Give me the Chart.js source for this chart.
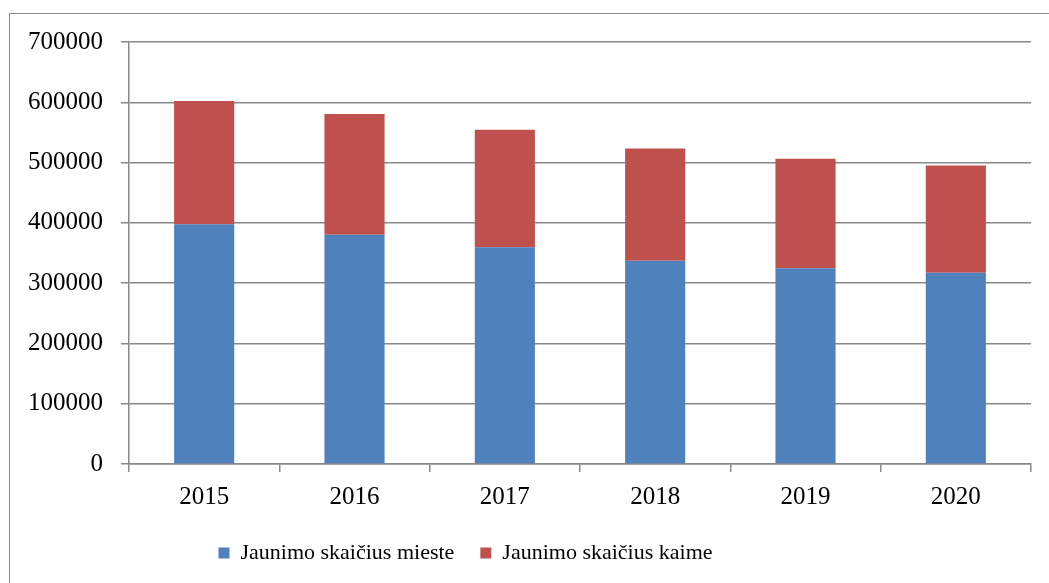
<!DOCTYPE html>
<html>
<head>
<meta charset="utf-8">
<title>Jaunimo skaičius</title>
<script src="https://cdn.jsdelivr.net/npm/chart.js@4/dist/chart.umd.min.js"></script>
<style>
  html, body { margin: 0; padding: 0; background: #fff; overflow: hidden; }
  #frame {
    position: absolute; left: 9px; top: 13px;
    width: 1200px; height: 800px;
    border: 1px solid #8a8a8a;
  }
  #wrap { position: absolute; left: 0; top: 0; width: 1049px; height: 583px; }
</style>
</head>
<body>
<div id="frame"></div>
<div id="wrap"><canvas id="chart" width="1049" height="583"></canvas></div>
<script>
"use strict";

// ? values (people)
const years = ["2015", "2016", "2017", "2018", "2019", "2020"];
const mieste = [397500, 380300, 359400, 337300, 324700, 317400];
const kaime = [204500, 200400, 194900, 186100, 181500, 177900];
const yTicks = [0, 100000, 200000, 300000, 400000, 500000, 600000, 700000];

const serif = "'Liberation Serif', 'Times New Roman', serif";
const gridColor = "#888888";

//! move the legend a bit left, like in the original
const legendShift = {
  id: "legendShift",
  afterLayout(chart) {
    const l = chart.legend;
    l.left -= 50;
    l.right -= 50;
  },
};

const config = {
  type: "bar",
  data: {
    labels: years,
    datasets: [
      {
        label: "Jaunimo skaičius mieste",
        data: mieste,
        backgroundColor: "#4f81bd",
        barPercentage: 0.4,
        categoryPercentage: 1,
      },
      {
        label: "Jaunimo skaičius kaime",
        data: kaime,
        backgroundColor: "#c0504d",
        barPercentage: 0.4,
        categoryPercentage: 1,
      },
    ],
  },
  options: {
    responsive: false,
    animation: false,
    layout: { padding: { left: 0, right: 18, top: 42, bottom: 9 } },
    plugins: {
      tooltip: { enabled: false },
      legend: {
        position: "bottom",
        labels: {
          font: { family: serif, size: 22 },
          color: "#000",
          boxWidth: 11,
          boxHeight: 11,
          padding: 26,
        },
      },
    },
    scales: {
      x: {
        stacked: true,
        offset: true,
        afterFit(scale) {
          scale.height = 52;
        },
        grid: {
          offset: true,
          drawOnChartArea: false,
          drawTicks: true,
          tickLength: 8,
          color: gridColor,
          lineWidth: 1.5,
        },
        border: { color: gridColor, width: 1.5 },
        ticks: {
          font: { family: serif, size: 25 },
          color: "#000",
          padding: 10,
        },
      },
      y: {
        stacked: true,
        min: 0,
        max: 700000,
        afterFit(scale) {
          scale.width = 129;
        },
        afterBuildTicks(scale) {
          scale.ticks = yTicks.map((v) => ({ value: v }));
        },
        grid: {
          color: gridColor,
          tickLength: 8,
          lineWidth: 1.5,
        },
        border: { color: gridColor, width: 1.5 },
        ticks: {
          font: { family: serif, size: 25 },
          color: "#000",
          padding: 18,
          callback: (v) => String(v),
        },
      },
    },
  },
  plugins: [legendShift],
};

// fonts first, otherwise the canvas falls back to another face
document.fonts.load("25px 'Liberation Serif'").then(() => {
  const myChart = new Chart(document.getElementById("chart"), config);
});
</script>
</body>
</html>
